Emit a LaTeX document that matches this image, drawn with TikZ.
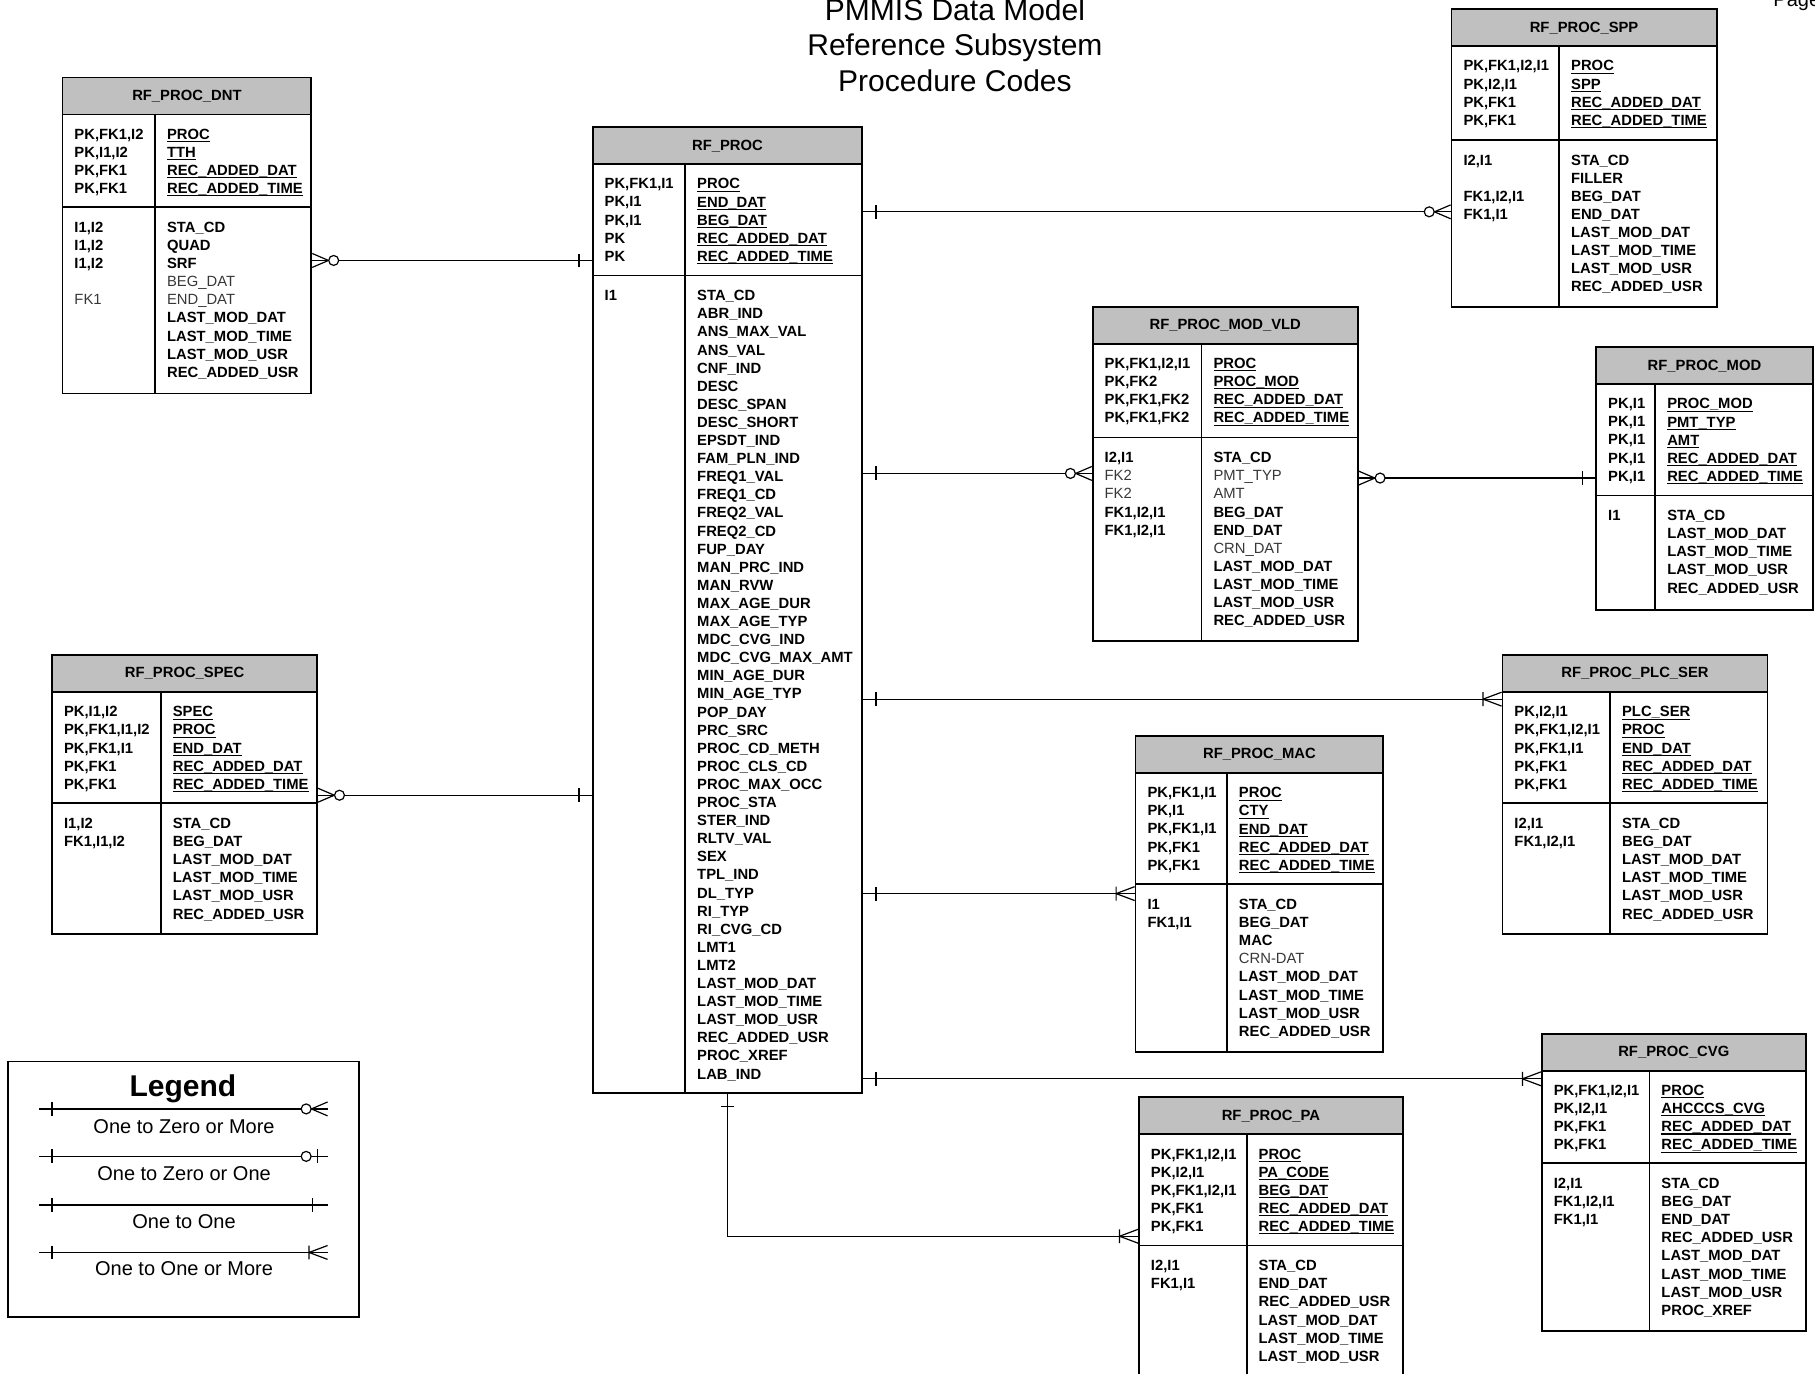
\documentclass[tikz,border=0pt]{standalone}
\usepackage{fontspec}
\setmainfont{Liberation Sans}
\usetikzlibrary{fit,decorations.markings}

\definecolor{hdrgray}{RGB}{192,192,192}
\definecolor{fldgray}{RGB}{55,55,55}

\newcommand{\fldfont}{\fontsize{7.4}{9.05}\selectfont\bfseries}
\newcommand{\pk}[1]{\setbox0\hbox{#1}\rlap{\rule[-0.2em]{\wd0}{0.07em}}\box0}
\newcommand{\gr}[1]{{\mdseries\color{fldgray}#1}}

% entity box: name, title, left, top, right, bottom, key line, divider
\newcommand{\erbox}[8]{%
  \node[tbl, fit={(#3,#4) (#5,#6)}] (#1) {};
  \draw[tbl, fill=hdrgray] (#3,#4) rectangle (#5,#4+32);
  \node[hdrtxt] at ({(#3+#5)/2},#4+16) {#2};
  \draw[tbl] (#3,#7) -- (#5,#7) (#8,#4+32) -- (#8,#6);
  \def\erl{#3}\def\ert{#4}\def\erk{#7}\def\erd{#8}}
\newcommand{\erkeys}[2]{%
  \node[fld] at (\erl+10,\ert+44) {#1};
  \node[fld] at (\erd+10,\ert+44) {#2};}
\newcommand{\erattrs}[2]{%
  \node[fld] at (\erl+10,\erk+12.5) {#1};
  \node[fld] at (\erd+10,\erk+12.5) {#2};}

\begin{document}
\begin{tikzpicture}[x=0.57875pt,y=-0.57875pt,
  tbl/.style={draw,line width=0.9pt,inner sep=0pt},
  hdrtxt/.style={font=\fldfont},
  fld/.style={anchor=north west,inner sep=0pt,align=left,font=\fldfont},
  conn/.style={line width=0.6pt},
  lgtxt/.style={font=\fontsize{10}{12}\selectfont},
  one start/.style={postaction={decorate,decoration={markings,mark=at position 0 with {\draw (11,-6) -- (11,6);}}}},
  one one/.style={postaction={decorate,decoration={markings,mark=at position 1 with {\draw (-12.7,-6) -- (-12.7,6);}}}},
  zero one/.style={postaction={decorate,decoration={markings,mark=at position 1 with {\draw (-8.6,-6) -- (-8.6,6); \draw[fill=white] (-18.5,0) circle (4.3);}}}},
  zero many/.style={postaction={decorate,decoration={markings,mark=at position 1 with {\draw (-14,0) -- (0,-6) (-14,0) -- (0,6); \draw[fill=white] (-18.5,0) circle (4.3);}}}},
  one many/.style={postaction={decorate,decoration={markings,mark=at position 1 with {\draw (-16,0) -- (0,-6) (-16,0) -- (0,6) (-16,-6) -- (-16,6);}}}}]
\useasboundingbox (0,0) rectangle (1568,1187);

% Title
\node[anchor=north,align=center,font=\fontsize{15}{17.9}\selectfont] (ttl) at (825,-7.5) {PMMIS Data Model\\Reference Subsystem\\Procedure Codes};
\node[anchor=base west,lgtxt] (pg) at (1526,6) {Page};

% RF_PROC
\erbox{proc}{RF\_PROC}{512}{110}{745}{944}{238}{592}
\erkeys{PK,FK1,I1\\PK,I1\\PK,I1\\PK\\PK}{\pk{PROC}\\\pk{END\_DAT}\\\pk{BEG\_DAT}\\\pk{REC\_ADDED\_DAT}\\\pk{REC\_ADDED\_TIME}}
\erattrs{I1}{STA\_CD\\ABR\_IND\\ANS\_MAX\_VAL\\ANS\_VAL\\CNF\_IND\\DESC\\DESC\_SPAN\\DESC\_SHORT\\EPSDT\_IND\\FAM\_PLN\_IND\\FREQ1\_VAL\\FREQ1\_CD\\FREQ2\_VAL\\FREQ2\_CD\\FUP\_DAY\\MAN\_PRC\_IND\\MAN\_RVW\\MAX\_AGE\_DUR\\MAX\_AGE\_TYP\\MDC\_CVG\_IND\\MDC\_CVG\_MAX\_AMT\\MIN\_AGE\_DUR\\MIN\_AGE\_TYP\\POP\_DAY\\PRC\_SRC\\PROC\_CD\_METH\\PROC\_CLS\_CD\\PROC\_MAX\_OCC\\PROC\_STA\\STER\_IND\\RLTV\_VAL\\SEX\\TPL\_IND\\DL\_TYP\\RI\_TYP\\RI\_CVG\_CD\\LMT1\\LMT2\\LAST\_MOD\_DAT\\LAST\_MOD\_TIME\\LAST\_MOD\_USR\\REC\_ADDED\_USR\\PROC\_XREF\\LAB\_IND}

% RF_PROC_DNT
\erbox{dnt}{RF\_PROC\_DNT}{54}{67}{269}{340}{179}{134}
\erkeys{PK,FK1,I2\\PK,I1,I2\\PK,FK1\\PK,FK1}{\pk{PROC}\\\pk{TTH}\\\pk{REC\_ADDED\_DAT}\\\pk{REC\_ADDED\_TIME}}
\erattrs{I1,I2\\I1,I2\\I1,I2\\\mbox{}\\\gr{FK1}}{STA\_CD\\QUAD\\SRF\\\gr{BEG\_DAT}\\\gr{END\_DAT}\\LAST\_MOD\_DAT\\LAST\_MOD\_TIME\\LAST\_MOD\_USR\\REC\_ADDED\_USR}

% RF_PROC_SPEC
\erbox{spec}{RF\_PROC\_SPEC}{45}{566}{274}{807}{694}{139}
\erkeys{PK,I1,I2\\PK,FK1,I1,I2\\PK,FK1,I1\\PK,FK1\\PK,FK1}{\pk{SPEC}\\\pk{PROC}\\\pk{END\_DAT}\\\pk{REC\_ADDED\_DAT}\\\pk{REC\_ADDED\_TIME}}
\erattrs{I1,I2\\FK1,I1,I2}{STA\_CD\\BEG\_DAT\\LAST\_MOD\_DAT\\LAST\_MOD\_TIME\\LAST\_MOD\_USR\\REC\_ADDED\_USR}

% RF_PROC_SPP
\erbox{spp}{RF\_PROC\_SPP}{1254}{8}{1483}{265}{121}{1347}
\erkeys{PK,FK1,I2,I1\\PK,I2,I1\\PK,FK1\\PK,FK1}{\pk{PROC}\\\pk{SPP}\\\pk{REC\_ADDED\_DAT}\\\pk{REC\_ADDED\_TIME}}
\erattrs{I2,I1\\\mbox{}\\FK1,I2,I1\\FK1,I1}{STA\_CD\\FILLER\\BEG\_DAT\\END\_DAT\\LAST\_MOD\_DAT\\LAST\_MOD\_TIME\\LAST\_MOD\_USR\\REC\_ADDED\_USR}

% RF_PROC_MOD_VLD
\erbox{modvld}{RF\_PROC\_MOD\_VLD}{944}{265}{1173}{554}{378}{1038}
\erkeys{PK,FK1,I2,I1\\PK,FK2\\PK,FK1,FK2\\PK,FK1,FK2}{\pk{PROC}\\\pk{PROC\_MOD}\\\pk{REC\_ADDED\_DAT}\\\pk{REC\_ADDED\_TIME}}
\erattrs{I2,I1\\\gr{FK2}\\\gr{FK2}\\FK1,I2,I1\\FK1,I2,I1}{STA\_CD\\\gr{PMT\_TYP}\\\gr{AMT}\\BEG\_DAT\\END\_DAT\\\gr{CRN\_DAT}\\LAST\_MOD\_DAT\\LAST\_MOD\_TIME\\LAST\_MOD\_USR\\REC\_ADDED\_USR}

% RF_PROC_MOD
\erbox{mod}{RF\_PROC\_MOD}{1379}{300}{1566}{527}{428}{1430}
\erkeys{PK,I1\\PK,I1\\PK,I1\\PK,I1\\PK,I1}{\pk{PROC\_MOD}\\\pk{PMT\_TYP}\\\pk{AMT}\\\pk{REC\_ADDED\_DAT}\\\pk{REC\_ADDED\_TIME}}
\erattrs{I1}{STA\_CD\\LAST\_MOD\_DAT\\LAST\_MOD\_TIME\\LAST\_MOD\_USR\\REC\_ADDED\_USR}

% RF_PROC_PLC_SER
\erbox{plcser}{RF\_PROC\_PLC\_SER}{1298}{566}{1527}{807}{694}{1391}
\erkeys{PK,I2,I1\\PK,FK1,I2,I1\\PK,FK1,I1\\PK,FK1\\PK,FK1}{\pk{PLC\_SER}\\\pk{PROC}\\\pk{END\_DAT}\\\pk{REC\_ADDED\_DAT}\\\pk{REC\_ADDED\_TIME}}
\erattrs{I2,I1\\FK1,I2,I1}{STA\_CD\\BEG\_DAT\\LAST\_MOD\_DAT\\LAST\_MOD\_TIME\\LAST\_MOD\_USR\\REC\_ADDED\_USR}

% RF_PROC_MAC
\erbox{mac}{RF\_PROC\_MAC}{981}{636}{1195}{909}{764}{1060}
\erkeys{PK,FK1,I1\\PK,I1\\PK,FK1,I1\\PK,FK1\\PK,FK1}{\pk{PROC}\\\pk{CTY}\\\pk{END\_DAT}\\\pk{REC\_ADDED\_DAT}\\\pk{REC\_ADDED\_TIME}}
\erattrs{I1\\FK1,I1}{STA\_CD\\BEG\_DAT\\MAC\\\gr{CRN-DAT}\\LAST\_MOD\_DAT\\LAST\_MOD\_TIME\\LAST\_MOD\_USR\\REC\_ADDED\_USR}

% RF_PROC_CVG
\erbox{cvg}{RF\_PROC\_CVG}{1332}{893}{1560}{1150}{1005}{1425}
\erkeys{PK,FK1,I2,I1\\PK,I2,I1\\PK,FK1\\PK,FK1}{\pk{PROC}\\\pk{AHCCCS\_CVG}\\\pk{REC\_ADDED\_DAT}\\\pk{REC\_ADDED\_TIME}}
\erattrs{I2,I1\\FK1,I2,I1\\FK1,I1}{STA\_CD\\BEG\_DAT\\END\_DAT\\REC\_ADDED\_USR\\LAST\_MOD\_DAT\\LAST\_MOD\_TIME\\LAST\_MOD\_USR\\PROC\_XREF}

% RF_PROC_PA
\erbox{pa}{RF\_PROC\_PA}{984}{948}{1212}{1200}{1076}{1077}
\erkeys{PK,FK1,I2,I1\\PK,I2,I1\\PK,FK1,I2,I1\\PK,FK1\\PK,FK1}{\pk{PROC}\\\pk{PA\_CODE}\\\pk{BEG\_DAT}\\\pk{REC\_ADDED\_DAT}\\\pk{REC\_ADDED\_TIME}}
\erattrs{I2,I1\\FK1,I1}{STA\_CD\\END\_DAT\\REC\_ADDED\_USR\\LAST\_MOD\_DAT\\LAST\_MOD\_TIME\\LAST\_MOD\_USR}

% Relationships
\draw[conn,one start,zero many] (proc.west |- 0,225) -- (dnt.east |- 0,225);
\draw[conn,one start,zero many] (proc.west |- 0,687) -- (spec.east |- 0,687);
\draw[conn,one start,zero many] (proc.east |- 0,183) -- (spp.west |- 0,183);
\draw[conn,one start,zero many] (proc.east |- 0,409) -- (modvld.west |- 0,409);
\draw[conn,one start,zero many] (mod.west |- 0,413) -- (modvld.east |- 0,413);
\draw[conn,one start,one many] (proc.east |- 0,604) -- (plcser.west |- 0,604);
\draw[conn,one start,one many] (proc.east |- 0,772) -- (mac.west |- 0,772);
\draw[conn,one start,one many] (proc.east |- 0,932) -- (cvg.west |- 0,932);
\draw[conn,one start,one many] (proc.south) |- (pa.west |- 0,1068);

% Legend
\node[tbl,fit={(7,917) (310,1138)}] (legend) {};
\node[font=\fontsize{15}{18}\selectfont\bfseries] (lgtitle) at (158,941) {Legend};
\draw[conn,one start,zero many] (34,958) -- (283,958);
\node[lgtxt] (lg1) at (159,973) {One to Zero or More};
\draw[conn,one start,zero one] (34,999) -- (283,999);
\node[lgtxt] (lg2) at (159,1014) {One to Zero or One};
\draw[conn,one start,one one] (34,1041) -- (283,1041);
\node[lgtxt] (lg3) at (159,1055) {One to One};
\draw[conn,one start,one many] (34,1082) -- (283,1082);
\node[lgtxt] (lg4) at (159,1096) {One to One or More};
\end{tikzpicture}
\end{document}
